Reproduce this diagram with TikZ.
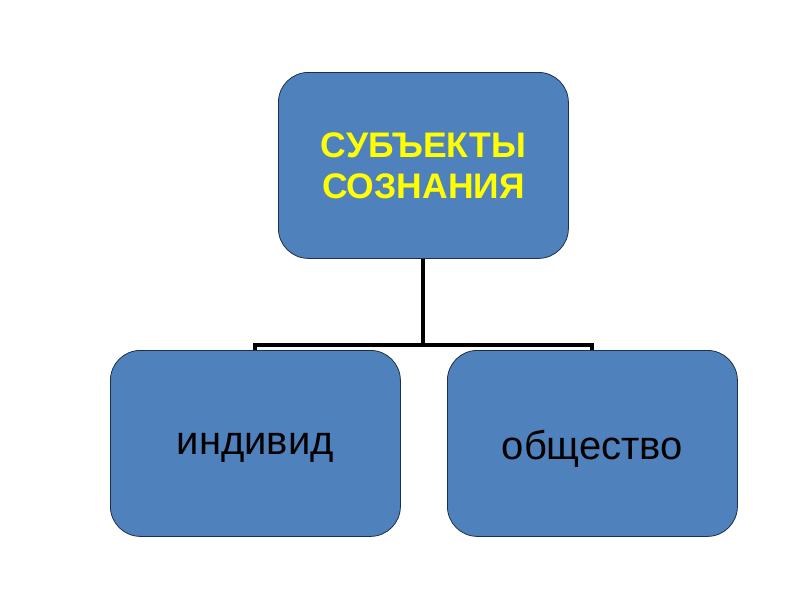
\documentclass[tikz,border=0pt]{standalone}
\usepackage{fontspec}
\setmainfont{Liberation Sans}
\definecolor{boxblue}{HTML}{4F81BD}
\definecolor{boxedge}{HTML}{1F2F45}
\definecolor{titleyellow}{HTML}{FFFF00}
\begin{document}
\begin{tikzpicture}[x=1pt,y=-1pt,
  box/.style={draw=boxedge, line width=0.8pt, fill=boxblue, rounded corners=30pt,
    minimum width=290pt, minimum height=186pt, inner sep=0pt, anchor=north west},
  conn/.style={line width=4pt, black}]
\useasboundingbox (0,0) rectangle (800,600);
\node[box] (top) at (278,72) {};
\node[box] (left) at (110,350) {};
\node[box] (right) at (447,350) {};
\node[font=\bfseries\fontsize{35.5}{41}\selectfont, text=titleyellow, align=center] (title) at (top.center) {СУБЪЕКТЫ\\СОЗНАНИЯ};
\node[font=\fontsize{40}{48}\selectfont] (lt) at ([yshift=-5pt]left.center) {индивид};
\node[font=\fontsize{40}{48}\selectfont] (rt) at ([yshift=-5pt]right.center) {общество};
\coordinate (j) at (423,345);
\draw[conn] (top.south -| j) -- (j);
\draw[conn] (left.north -| 255,0) |- (j) -| (right.north -| 592,0);
\end{tikzpicture}
\end{document}
